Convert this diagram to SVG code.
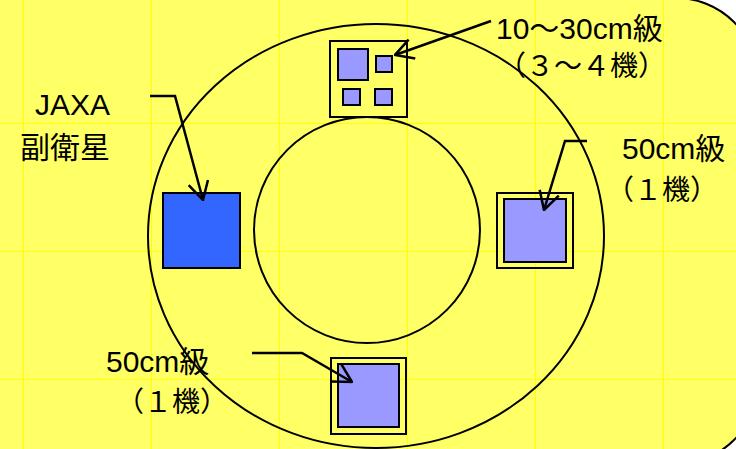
<svg xmlns="http://www.w3.org/2000/svg" width="736" height="449" viewBox="0 0 736 449">
  <defs>
    <marker id="arr" markerUnits="userSpaceOnUse" viewBox="0 0 20 22" refX="19" refY="11" markerWidth="20" markerHeight="22" orient="auto">
      <path d="M1,1 L19,11 L1,21" fill="none" stroke="#000" stroke-width="2.5"/>
    </marker>
    <style>
      .ring { fill: none; stroke: #000; stroke-width: 2; }
      .frame { fill: none; stroke: #000; stroke-width: 2; }
      .sat { fill: #9999FF; stroke: #000; stroke-width: 2; }
      .jaxa { fill: #3366FF; stroke: #000; stroke-width: 2; }
      .conn { fill: none; stroke: #000; stroke-width: 2.5; marker-end: url(#arr); }
      .grid { stroke: #FFFF00; stroke-width: 1; }
      .lbl { font-family: "Liberation Sans", Arial, "Noto Sans CJK JP", sans-serif; font-size: 30px; fill: #000; }
      .sub { font-family: "Noto Sans CJK JP", sans-serif; font-size: 28px; fill: #000; }
    </style>
  </defs>

  <rect width="736" height="449" fill="#FFFFFF"/>
  <rect id="background" x="-100" y="-2" width="858" height="466" rx="82" ry="82" fill="#FFFF66" stroke="#000" stroke-width="2"/>

  <g id="grid">
    <line class="grid" x1="23.5" y1="0" x2="23.5" y2="449"/>
    <line class="grid" x1="151.5" y1="0" x2="151.5" y2="449"/>
    <line class="grid" x1="279.5" y1="0" x2="279.5" y2="449"/>
    <line class="grid" x1="407.5" y1="0" x2="407.5" y2="449"/>
    <line class="grid" x1="535.5" y1="0" x2="535.5" y2="449"/>
    <line class="grid" x1="663.5" y1="0" x2="663.5" y2="449"/>
    <line class="grid" x1="0" y1="123.5" x2="736" y2="123.5"/>
    <line class="grid" x1="0" y1="251.5" x2="736" y2="251.5"/>
    <line class="grid" x1="0" y1="379.5" x2="736" y2="379.5"/>
  </g>

  <g id="rings">
    <ellipse class="ring" cx="376" cy="236" rx="228" ry="212"/>
    <circle class="ring" cx="367" cy="230" r="113"/>
  </g>

  <g id="jaxa-sat">
    <rect class="jaxa" x="163" y="193" width="77" height="75"/>
  </g>

  <g id="small-sats">
    <rect class="frame" x="330" y="41" width="77" height="76"/>
    <rect class="sat" x="338" y="49" width="30" height="31"/>
    <rect class="sat" x="376" y="56" width="16" height="16"/>
    <rect class="sat" x="343" y="89" width="17" height="16"/>
    <rect class="sat" x="375" y="89" width="17" height="16"/>
  </g>

  <g id="sat-right">
    <rect class="frame" x="497" y="193" width="76" height="75"/>
    <rect class="sat" x="504" y="199" width="62" height="63"/>
  </g>

  <g id="sat-bottom">
    <rect class="frame" x="331" y="358" width="75" height="76"/>
    <rect class="sat" x="338" y="364" width="61" height="63"/>
  </g>

  <g id="connectors">
    <path class="conn" d="M491,21 L395,55"/>
    <path class="conn" d="M150,96 L175,96 L203,200"/>
    <path class="conn" d="M587,141 L565,141 L544,210"/>
    <path class="conn" d="M252,353 L302,353 L352,382"/>
  </g>

  <g id="label-small">
    <text class="lbl" x="496" y="39">10～30cm級</text>
    <text class="sub" x="498" y="76">（３～４機）</text>
  </g>
  <g id="label-jaxa">
    <text class="lbl" x="35" y="115">JAXA</text>
    <text class="lbl" x="20" y="158">副衛星</text>
  </g>
  <g id="label-right">
    <text class="lbl" x="622" y="159">50cm級</text>
    <text class="sub" x="606" y="200">（１機）</text>
  </g>
  <g id="label-bottom">
    <text class="lbl" x="106" y="372">50cm級</text>
    <text class="sub" x="116" y="412">（１機）</text>
  </g>
</svg>
